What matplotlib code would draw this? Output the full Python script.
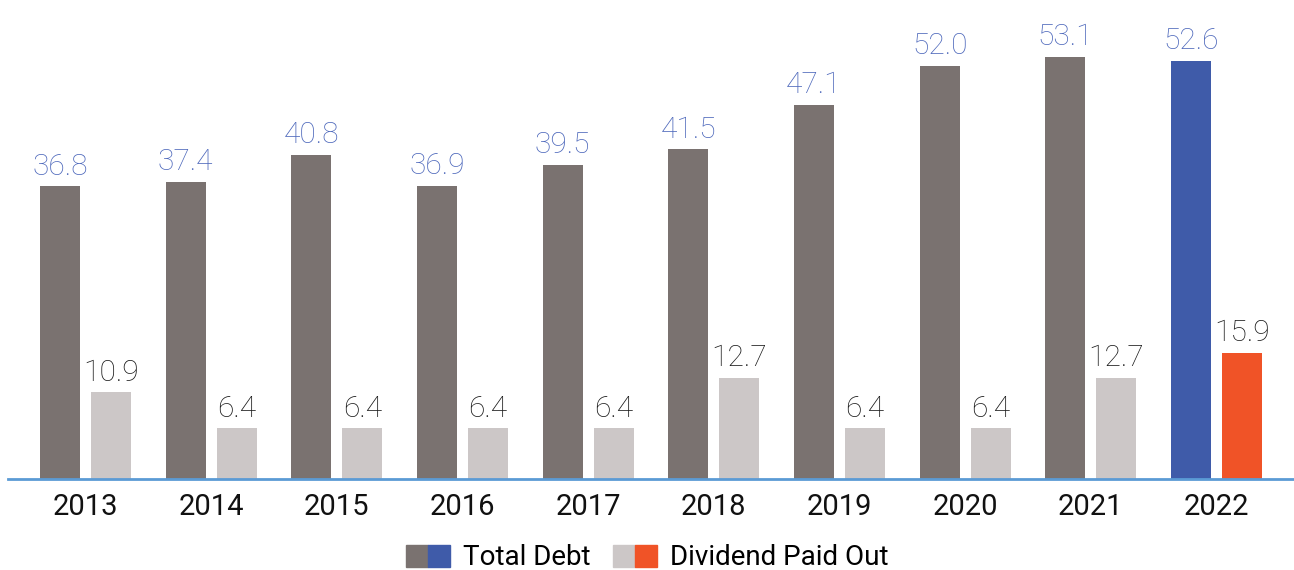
import matplotlib
matplotlib.use("Agg")
import matplotlib.pyplot as plt
import numpy as np
from matplotlib.patches import Patch
from matplotlib.legend_handler import HandlerTuple

years = ["2013", "2014", "2015", "2016", "2017", "2018", "2019", "2020", "2021", "2022"]
total_debt = [36.8, 37.4, 40.8, 36.9, 39.5, 41.5, 47.1, 52.0, 53.1, 52.6]
dividend_paid = [10.9, 6.4, 6.4, 6.4, 6.4, 12.7, 6.4, 6.4, 12.7, 15.9]

debt_color = "#7a7270"
debt_hl = "#3f5ba9"
div_color = "#ccc7c7"
div_hl = "#f05327"
debt_label_color = "#4c67bb"
axis_color = "#5b9bd5"

plt.rcParams['font.family'] = ['Roboto', 'DejaVu Sans']

W, H = 1294, 570
fig = plt.figure(figsize=(W / 100, H / 100), dpi=100)
ax = fig.add_axes([8 / W, 91 / H, 1 - 8 / W, 1 - 91 / H])

x = np.arange(len(years))
bw = 0.318
off = 0.203
n = len(years)
debt_colors = [debt_color] * (n - 1) + [debt_hl]
div_colors = [div_color] * (n - 1) + [div_hl]

b1 = ax.bar(x - off, total_debt, bw, color=debt_colors, zorder=2)
b2 = ax.bar(x + off, dividend_paid, bw, color=div_colors, zorder=2)

for rect, v in zip(b1, total_debt):
    ax.annotate(f"{v:.1f}", (rect.get_x() + rect.get_width() / 2, rect.get_height()),
                xytext=(0, 4), textcoords="offset points", ha="center", va="bottom",
                fontsize=21.5, color=debt_label_color, fontweight="light")
for rect, v in zip(b2, dividend_paid):
    ax.annotate(f"{v:.1f}", (rect.get_x() + rect.get_width() / 2, rect.get_height()),
                xytext=(0, 4), textcoords="offset points", ha="center", va="bottom",
                fontsize=21.5, color="#1a1a1a", fontweight="light")

ax.set_xlim(-0.617, 9.617)
ax.set_ylim(0, 60.25)
ax.set_xticks(x)
ax.set_xticklabels(years, fontsize=21, color="#111111")
ax.tick_params(axis="x", length=0, pad=10)
ax.set_yticks([])
for s in ["top", "right", "left"]:
    ax.spines[s].set_visible(False)
ax.spines["bottom"].set_color(axis_color)
ax.spines["bottom"].set_linewidth(2)
ax.spines["bottom"].set_zorder(3)

handles = [(Patch(color=debt_color), Patch(color=debt_hl)),
           (Patch(color=div_color), Patch(color=div_hl))]
fig.legend(handles, ["Total Debt", "Dividend Paid Out"],
           handler_map={tuple: HandlerTuple(ndivide=None, pad=0)},
           loc="lower center", bbox_to_anchor=(0.5, -0.022), ncol=2, frameon=False,
           fontsize=20, handlelength=1.6, handleheight=0.85, handletextpad=0.45,
           columnspacing=0.8, borderaxespad=0.0)

fig.savefig("out.png", dpi=100)
